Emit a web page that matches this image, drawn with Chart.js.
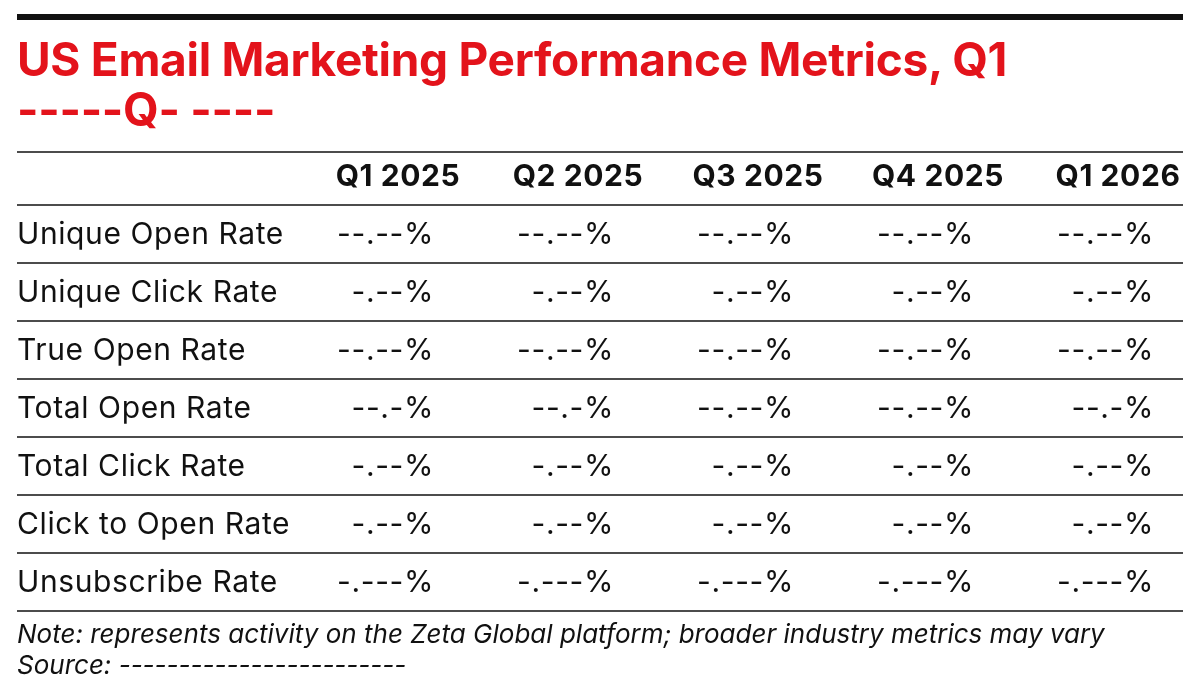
<!DOCTYPE html>
<html lang="en">
<head>
  <meta charset="UTF-8" />
  <title>US Email Marketing Performance Metrics</title>
  <script src="https://cdn.jsdelivr.net/npm/chart.js"></script>
  <style>
    body { margin: 0; width: 1200px; height: 675px; overflow: hidden; background: #fff; font-family: "Inter", "Liberation Sans", sans-serif; }
    #wrap { position: absolute; left: 0; top: 0; width: 1200px; height: 675px; }
    .topbar { position: absolute; left: 17px; top: 14px; width: 1166px; height: 6px; background: #111; }
    h1 { position: absolute; left: 17px; top: 34px; margin: 0; color: #e3131b; font-size: 46px; font-weight: 700; line-height: 50px; letter-spacing: -0.3px; }
    .note { position: absolute; left: 17px; top: 618px; font-size: 26px; font-style: italic; color: #111; line-height: 31px; }
  </style>
</head>
<body>
<div id="wrap">
  <canvas id="tbl" width="1200" height="675"></canvas>
  <div class="topbar"></div>
  <h1>US Email Marketing Performance Metrics, Q1<br>-----Q- ----</h1>
  <div class="note">Note: represents activity on the Zeta Global platform; broader industry metrics may vary<br>Source: ------------------------</div>
</div>
<script>
  const quarters = ['Q1 2025', 'Q2 2025', 'Q3 2025', 'Q4 2025', 'Q1 2026'];
  const metrics = ['Unique Open Rate', 'Unique Click Rate', 'True Open Rate', 'Total Open Rate',
                   'Total Click Rate', 'Click to Open Rate', 'Unsubscribe Rate'];
  const cells = [
    ['--.--%', '--.--%', '--.--%', '--.--%', '--.--%'],
    ['-.--%', '-.--%', '-.--%', '-.--%', '-.--%'],
    ['--.--%', '--.--%', '--.--%', '--.--%', '--.--%'],
    ['--.-%', '--.-%', '--.--%', '--.--%', '--.-%'],
    ['-.--%', '-.--%', '-.--%', '-.--%', '-.--%'],
    ['-.--%', '-.--%', '-.--%', '-.--%', '-.--%'],
    ['-.---%', '-.---%', '-.---%', '-.---%', '-.---%']
  ];
  const rowLabels = ['header'].concat(metrics);

  const tablePlugin = {
    id: 'tablePlugin',
    afterDraw(chart) {
      const c = chart.ctx, xs = chart.scales.x, ys = chart.scales.y;
      const half = (ys.getPixelForValue(1) - ys.getPixelForValue(0)) / 2;
      c.save();
      c.strokeStyle = '#111';
      c.lineWidth = 1.5;
      const line = y => { c.beginPath(); c.moveTo(17, y); c.lineTo(1183, y); c.stroke(); };
      line(152);
      rowLabels.forEach((r, i) => line(ys.getPixelForValue(i) + half - 1));
      c.fillStyle = '#111';
      c.textBaseline = 'middle';
      c.letterSpacing = '0.6px';
      c.font = '700 30px Inter, "Liberation Sans", sans-serif';
      c.textAlign = 'center';
      quarters.forEach((q, j) => c.fillText(q, xs.getPixelForValue(j), ys.getPixelForValue(0)));
      c.font = '400 30px Inter, "Liberation Sans", sans-serif';
      metrics.forEach((m, i) => {
        const y = ys.getPixelForValue(i + 1);
        c.textAlign = 'left';
        c.fillText(m, 17, y);
        c.textAlign = 'right';
        cells[i].forEach((v, j) => c.fillText(v, xs.getPixelForValue(j) + 36, y));
      });
      c.restore();
    }
  };

  new Chart(document.getElementById('tbl'), {
    type: 'line',
    data: { labels: quarters, datasets: [{ data: [], showLine: false }] },
    options: {
      responsive: false,
      animation: false,
      layout: { padding: { left: 398, right: 82, top: 177, bottom: 92 } },
      plugins: { legend: { display: false }, tooltip: { enabled: false } },
      scales: {
        x: { type: 'category', labels: quarters, offset: false, display: false },
        y: { type: 'category', labels: rowLabels, offset: false, display: false }
      }
    },
    plugins: [tablePlugin]
  });
</script>
</body>
</html>
